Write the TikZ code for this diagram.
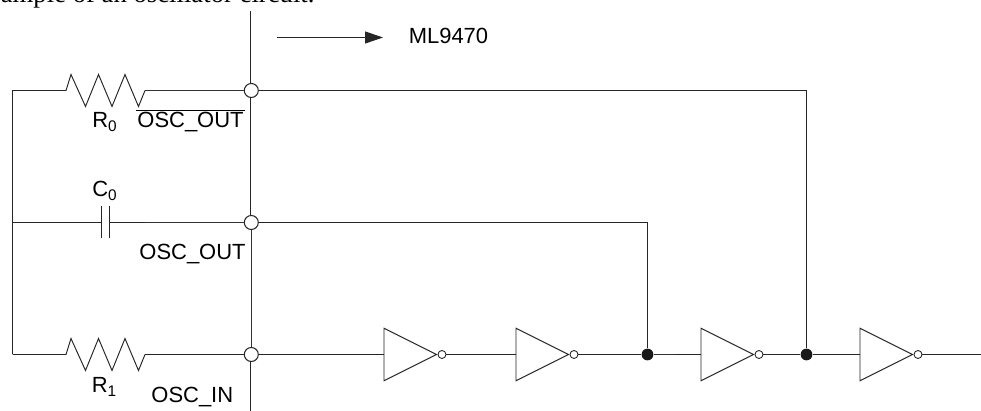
\documentclass[tikz,border=0pt]{standalone}
\usepackage{fontspec}
\setmainfont{Liberation Sans}
\newfontfamily\captionfont{Liberation Serif}
\usetikzlibrary{shapes.geometric, arrows.meta}
\tikzstyle{wire} = [line width=0.55pt, black!85]
\tikzstyle{heavy} = [line width=0.8pt, black!80]
\tikzstyle{junction} = [circle, draw=black!85, fill=white, line width=0.6pt, minimum size=0.28cm, inner sep=0pt]
\tikzstyle{dot} = [circle, fill=black!90, minimum size=0.235cm, inner sep=0pt]
\tikzstyle{inverter} = [isosceles triangle, isosceles triangle apex angle=53, isosceles triangle stretches, minimum width=1.05cm, minimum height=1.05cm, inner sep=0pt, draw=black!85, fill=white, line width=0.55pt, anchor=lower side]
\tikzstyle{bubble} = [circle, draw=black!85, fill=white, line width=0.5pt, minimum size=0.16cm, inner sep=0pt, anchor=west]
\tikzstyle{label} = [inner sep=0pt, anchor=base, font=\fontsize{12.5}{14}\selectfont]
\tikzstyle{arrow} = [line width=0.55pt, black!85, -{Stealth[inset=0pt, length=0.36cm, width=0.24cm]}]

\begin{document}
\begin{tikzpicture}[x=0.02cm, y=-0.02cm]

\useasboundingbox (0,0) rectangle (981,411);

\node (caption) [anchor=base west, inner sep=0pt, font=\captionfont\fontsize{15.2}{17}\selectfont] at (0.5,3) {ample of an oscillator circuit.};

%% bus and rail
\coordinate (bustop) at (250.5,11);
\coordinate (busbot) at (250.5,411);
\coordinate (rail0) at (12.5,90.5);
\coordinate (rail1) at (12.5,222.5);
\coordinate (rail2) at (12.5,354.5);
\node (j0) [junction] at (251.3,90.5) {};
\node (j1) [junction] at (251.3,222.5) {};
\node (j2) [junction] at (251.3,354.5) {};

%% parts
\coordinate (r0a) at (66,90.5);
\coordinate (r0b) at (145,90.5);
\coordinate (r1a) at (66,354.5);
\coordinate (r1b) at (145,354.5);
\coordinate (c0a) at (101.5,222.5);
\coordinate (c0b) at (109.5,222.5);
\coordinate (c0c) at (145,222.5);

%% inverter chain
\node (inv1) [inverter] at (383.5,354.5) {};
\node (bub1) [bubble] at (inv1.apex) {};
\node (inv2) [inverter] at (515.5,354.5) {};
\node (bub2) [bubble] at (inv2.apex) {};
\node (dot1) [dot] at (647.5,354.5) {};
\coordinate (stub) at (674.5,354.5);
\node (inv3) [inverter] at (700.5,354.5) {};
\node (bub3) [bubble] at (inv3.apex) {};
\node (dot2) [dot] at (806.5,354.5) {};
\node (inv4) [inverter] at (859.5,354.5) {};
\node (bub4) [bubble] at (inv4.apex) {};
\coordinate (out) at (981,354.5);

%% labels
\node (r0) [label] at (105,128) {R\textsubscript{0}};
\node (oscoutn) [label] at (190.5,128) {$\overline{\mbox{\kern1pt OSC\_OUT\kern1pt}}$};
\node (c0) [label] at (105,197) {C\textsubscript{0}};
\node (oscout) [label] at (192.5,260) {OSC\_OUT};
\node (r1) [label] at (104.5,393) {R\textsubscript{1}};
\node (oscin) [label] at (192.3,402.7) {OSC\_IN};
\node (chip) [label] at (448.5,43.3) {ML9470};

%% wires
\draw [wire] (bustop) -- (bustop |- j0.north);
\draw [wire] (bustop |- j0.south) -- (bustop |- j1.north);
\draw [heavy] (j1) -- (j2);
\draw [wire] (bustop |- j2.south) -- (busbot);
\draw [wire] (rail0) -- (rail1);
\draw [wire] (rail1) -- (rail2);

\draw [wire] (rail0) -- (r0a) -- ++(5,-16) -- ++(14.5,32) -- ++(13,-32) -- ++(13.5,32) -- ++(13,-32) -- ++(13.5,32) -- (r0b);
\draw [heavy] (r0b) -- (j0);
\draw [wire] (rail2) -- (r1a) -- ++(5,-16) -- ++(14.5,32) -- ++(13,-32) -- ++(13.5,32) -- ++(13,-32) -- ++(13.5,32) -- (r1b);
\draw [wire] (r1b) -- (j2);

\draw [wire] (rail1) -- (c0a);
\draw [wire] (c0a) ++(0,-16) -- ++(0,32);
\draw [wire] (c0b) ++(0,-16) -- ++(0,32);
\draw [wire] (c0b) -- (c0c);
\draw [heavy] (c0c) -- (j1);

\draw [wire] (j2) -- (inv1.lower side);
\draw [wire] (bub1) -- (inv2.lower side);
\draw [wire] (bub2) -- (dot1);
\draw [heavy] (dot1) -- (stub);
\draw [wire] (stub) -- (inv3.lower side);
\draw [wire] (bub3) -- (dot2);
\draw [wire] (dot2) -- (inv4.lower side);
\draw [wire] (bub4) -- (out);

%% feedback
\draw [wire] (j0) -| (dot2);
\draw [wire] (j1) -| (dot1);

\coordinate (dirtail) at (277,37.5);
\coordinate (dirhead) at (383,37.5);
\draw [arrow] (dirtail) -- (dirhead);

\end{tikzpicture}
\end{document}
